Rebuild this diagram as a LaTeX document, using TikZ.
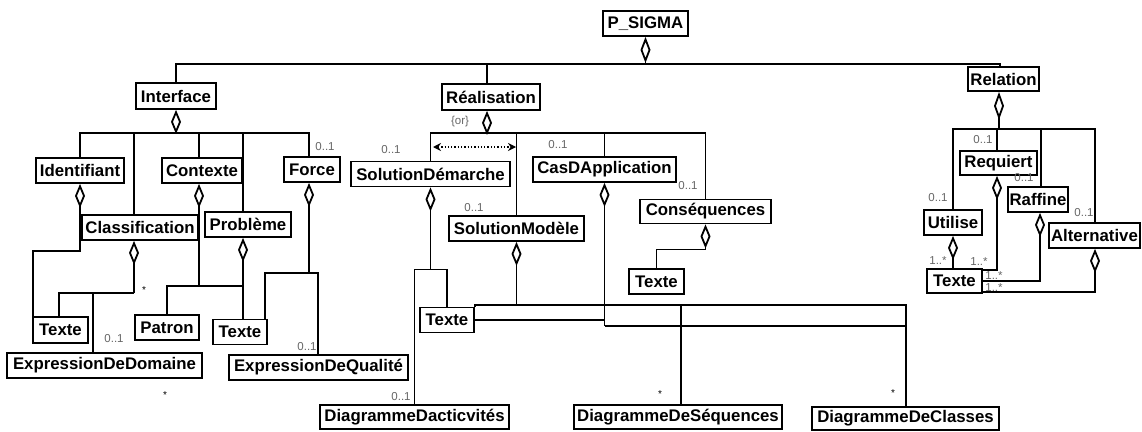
\documentclass[tikz,border=0pt]{standalone}
\usepackage{fontspec}
\setmainfont{Liberation Sans}
\usetikzlibrary{arrows.meta}
\begin{document}
\begin{tikzpicture}[x=1pt,y=-1pt,
  box/.style={draw, line width=1.8pt, inner sep=0pt, minimum height=25pt, fill=white, font=\bfseries\fontsize{16.8}{19}\selectfont},
  conn/.style={line width=1.8pt},
  agg/.style={conn, arrows={Diamond[open,length=24pt,width=10pt]-}},
  mult/.style={font=\fontsize{11.5}{13}\selectfont, text=black!60, inner sep=0pt},
  star/.style={font=\fontsize{10}{12}\selectfont, inner sep=0pt}]
\useasboundingbox (0,0) rectangle (1142,431);
% top
\node[box, minimum width=85] (psigma) at (645.5,23.5) {P\_SIGMA};
\node[box, minimum width=80, minimum height=26] (interface) at (176,96) {Interface};
\node[box, minimum width=98, minimum height=26] (realisation) at (491,97) {Réalisation};
\node[box, minimum width=71, minimum height=24] (relation) at (1003.5,79) {Relation};
% interface part
\node[box, minimum width=88] (identifiant) at (80,170.5) {Identifiant};
\node[box, minimum width=80] (contexte) at (202,170.5) {Contexte};
\node[box, minimum width=116] (classif) at (140,227.5) {Classification};
\node[box, minimum width=86] (probleme) at (248,224.5) {Problème};
\node[box, minimum width=56] (force) at (312,169.5) {Force};
\node[box, minimum width=55, minimum height=26] (texte1) at (60.5,330) {Texte};
\node[box, minimum width=195] (exprdom) at (104.5,365.5) {ExpressionDeDomaine};
\node[box, minimum width=64] (patron) at (167,327.5) {Patron};
\node[box, minimum width=54] (texte2) at (240,332) {Texte};
\node[box, minimum width=179] (exprqual) at (318.5,367.5) {ExpressionDeQualité};
% realisation part
\node[box, minimum width=159] (soldem) at (430.5,174) {SolutionDémarche};
\node[box, minimum width=135] (solmod) at (516.5,228.5) {SolutionModèle};
\node[box, minimum width=143] (casd) at (604.5,169.5) {CasDApplication};
\node[box, minimum width=131, minimum height=24] (conseq) at (705.5,211.5) {Conséquences};
\node[box, minimum width=55] (texte3) at (656.5,281.5) {Texte};
\node[box, minimum width=54] (texte4) at (447,320) {Texte};
\node[box, minimum width=189, minimum height=24] (diagact) at (414.5,417) {DiagrammeDacticvités};
\node[box, minimum width=208, minimum height=24] (diagseq) at (678,417) {DiagrammeDeSéquences};
\node[box, minimum width=187, minimum height=23] (diagcls) at (905.5,418.5) {DiagrammeDeClasses};
% relation part
\node[box, minimum width=58] (utilise) at (953,222.5) {Utilise};
\node[box, minimum width=77, minimum height=24] (requiert) at (998.5,163) {Requiert};
\node[box, minimum width=60] (raffine) at (1038,199.5) {Raffine};
\node[box, minimum width=91] (alternative) at (1094.5,235.5) {Alternative};
\node[box, minimum width=55, minimum height=24] (texte5) at (954.5,281) {Texte};

% P_SIGMA
\draw[agg, arrows={Diamond[open,length=26pt,width=10pt]-}] (psigma.south) -- ++(0,27) coordinate (pb);
\draw[conn] (pb) -| (interface.north);
\draw[conn] (pb) -| ([xshift=-4pt]realisation.north);
\draw[conn] (pb) -| ([xshift=-3.5pt]relation.north);
% Interface
\draw[agg] (interface.south) -- ++(0,23) coordinate (ib);
\draw[conn] (ib) -| (identifiant.north);
\draw[conn] (ib) -| ([xshift=-6pt]classif.north);
\draw[conn] (ib) -| ([xshift=-3pt]contexte.north);
\draw[conn] (ib) -| ([xshift=-5pt]probleme.north);
\draw[conn] (ib) -| ([xshift=-3pt]force.north);
% Identifiant
\draw[agg] (identifiant.south) -- ++(0,67) -| ([xshift=1pt]texte1.north west);
% Classification
\draw[agg] ([xshift=-6pt]classif.south) -- ++(0,52) coordinate (cb);
\draw[conn] (cb) -| ([xshift=-1.5pt]texte1.north);
\draw[conn] (cb) -| ([xshift=-11.5pt]exprdom.north);
% Contexte
\draw[agg] ([xshift=-3pt]contexte.south) -- ++(0,102) coordinate (kb);
\draw[conn] (kb) -| (patron.north);
\draw[conn] (kb) -| ([xshift=3pt]texte2.north);
% Probleme
\draw[agg] ([xshift=-5pt]probleme.south) -- ([xshift=3pt]texte2.north);
% Force
\draw[agg] ([xshift=-3pt]force.south) -- ++(0,90) coordinate (fb);
\draw[conn] (fb) -| ([xshift=25pt]texte2.north);
\draw[conn] (fb) -| ([xshift=-0.5pt]exprqual.north);
% Realisation
\draw[agg, arrows={Diamond[open,length=24pt,width=10pt]-}] ([xshift=-4pt]realisation.south) -- ++(0,22) coordinate (rb);
\draw[conn] (rb) -| (soldem.north);
\draw[conn] (rb) -| (solmod.north);
\draw[conn] (rb) -| (casd.north);
\draw[conn] (rb) -| (conseq.north);
\coordinate (orl) at (433,147);
\coordinate (orr) at (516,147);
\draw[line width=1.3pt, dotted, arrows={Stealth[length=8pt,width=8pt]-Stealth[length=8pt,width=8pt]}] (orl) -- (orr);
% Consequences
\draw[agg] (conseq.south) -- ++(0,25) -| (texte3.north);
% CasDApplication
\draw[agg] (casd.south) -- ++(0,143) coordinate (ab);
\draw[conn] (ab) -| ([xshift=0.5pt]diagcls.north);
\draw[conn] (texte4.east) -- (texte4.east -| ab);
% SolutionModele
\draw[agg] (solmod.south) -- ++(0,63) coordinate (mb);
\draw[conn] (mb) -| (texte4.north east);
\draw[conn] (mb) -| ([xshift=3pt]diagseq.north);
\draw[conn] (mb) -| ([xshift=0.5pt]diagcls.north);
% SolutionDemarche
\draw[agg] (soldem.south) -- ++(0,82) coordinate (db);
\draw[conn] (db) -| (texte4.north);
\draw[conn] (db) -| (diagact.north);
% Relation
\draw[agg, arrows={Diamond[open,length=28pt,width=10pt]-}] ([xshift=-4.5pt]relation.south) -- ++(0,37) coordinate (lb);
\draw[conn] (lb) -| (utilise.north);
\draw[conn] (lb) -| ([xshift=-1.5pt]requiert.north);
\draw[conn] (lb) -| ([xshift=3pt]raffine.north);
\draw[conn] (lb) -| ([xshift=0.5pt]alternative.north);
\draw[agg] (utilise.south) -- (utilise.south |- texte5.north);
\draw[agg] ([xshift=-1.5pt]requiert.south) |- ([yshift=-2pt]texte5.north east);
\draw[agg] ([xshift=2pt]raffine.south) |- (texte5.east);
\draw[agg] ([xshift=0.5pt]alternative.south) |- ([yshift=2pt]texte5.south east);

% multiplicities
\node[mult] (m1) at (325,147) {0..1};
\node[star] (s1) at (144,290) {*};
\node[mult] (m2) at (114,339) {0..1};
\node[star] (s2) at (165,395) {*};
\node[mult] (m3) at (307,347) {0..1};
\node[mult] (or) at (460,122) {\{or\}};
\node[mult] (m4) at (391,150) {0..1};
\node[mult] (m5) at (474,208) {0..1};
\node[mult] (m6) at (558,145) {0..1};
\node[mult] (m7) at (688,186) {0..1};
\node[mult] (m8) at (401,397) {0..1};
\node[star] (s3) at (660,394) {*};
\node[star] (s4) at (893,393) {*};
\node[mult] (m9) at (938,198) {0..1};
\node[mult] (m10) at (983,140) {0..1};
\node[mult] (m11) at (1024,178) {0..1};
\node[mult] (m12) at (1084,213) {0..1};
\node[mult] (m13) at (938,261) {1..*};
\node[mult] (m14) at (979,262) {1..*};
\node[mult] (m15) at (994,276) {1..*};
\node[mult] (m16) at (994,288) {1..*};
\end{tikzpicture}
\end{document}
